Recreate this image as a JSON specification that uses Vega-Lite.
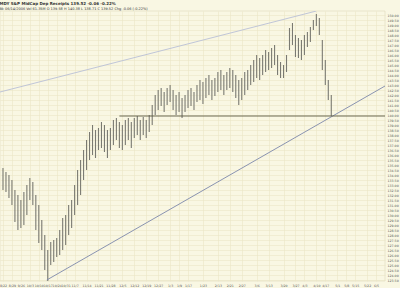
{
  "$schema": "https://vega.github.io/schema/vega-lite/v6.json",
  "width": 385,
  "height": 270,
  "autosize": "none",
  "padding": {"left": 0, "top": 11, "right": 15, "bottom": 7},
  "background": "#f9f7e3",
  "title": {
    "text": "MDY S&P MidCap Dep Receipts  139.52  -0.06 -0.22%",
    "subtitle": "Bk 06/14/2006 Vol 61.35M  O 139.58  H 140.38  L 138.71  C 139.52  Chg -0.06 (-0.22%)",
    "anchor": "start",
    "offset": 1,
    "fontSize": 4,
    "fontWeight": "bold",
    "subtitleFontSize": 3.5,
    "subtitlePadding": 1,
    "color": "#333333",
    "subtitleColor": "#333333",
    "font": "DejaVu Sans",
    "subtitleFont": "DejaVu Sans"
  },
  "config": {
    "view": {"stroke": "#d8d3b0", "strokeWidth": 0.5},
    "axis": {"gridColor": "#ebe6c6", "gridWidth": 0.6, "domain": false, "ticks": false, "labelFont": "DejaVu Sans", "labelColor": "#555555", "labelOverlap": false},
    "axisY": {"labelOverlap": false}
  },
  "datasets": {
    "bars": [
      {"i":0,"h":134.7,"p":132.5},{"i":1,"h":134.3,"p":132.3},{"i":2,"h":134.0,"p":131.7},{"i":3,"h":133.5,"p":131.0},
      {"i":4,"h":132.5,"p":129.3},{"i":5,"h":132.0,"p":128.5},{"i":6,"h":131.5,"p":128.7},{"i":7,"h":132.3,"p":129.0},
      {"i":8,"h":133.0,"p":130.0},{"i":9,"h":133.7,"p":131.5},{"i":10,"h":133.3,"p":131.0},{"i":11,"h":132.0,"p":128.5},
      {"i":12,"h":131.0,"p":127.2},{"i":13,"h":129.5,"p":126.5},{"i":14,"h":128.0,"p":124.5},{"i":15,"h":126.5,"p":123.4},
      {"i":16,"h":127.3,"p":125.0},{"i":17,"h":127.5,"p":125.3},{"i":18,"h":127.7,"p":125.8},{"i":19,"h":128.5,"p":126.0},
      {"i":20,"h":129.7,"p":126.5},{"i":21,"h":130.0,"p":127.0},{"i":22,"h":131.0,"p":128.0},{"i":23,"h":131.5,"p":128.7},
      {"i":24,"h":133.0,"p":130.0},{"i":25,"h":134.5,"p":131.0},{"i":26,"h":135.5,"p":132.0},{"i":27,"h":136.5,"p":133.5},
      {"i":28,"h":137.5,"p":134.5},{"i":29,"h":138.3,"p":135.5},{"i":30,"h":139.0,"p":136.0},{"i":31,"h":138.5,"p":135.7},
      {"i":32,"h":138.7,"p":136.5},{"i":33,"h":139.3,"p":136.7},{"i":34,"h":139.0,"p":136.3},{"i":35,"h":138.5,"p":135.7},
      {"i":36,"h":138.7,"p":136.5},{"i":37,"h":139.5,"p":137.0},{"i":38,"h":139.7,"p":137.5},{"i":39,"h":139.3,"p":136.7},
      {"i":40,"h":139.0,"p":136.5},{"i":41,"h":139.5,"p":137.0},{"i":42,"h":139.7,"p":137.5},{"i":43,"h":139.3,"p":136.7},
      {"i":44,"h":139.7,"p":137.7},{"i":45,"h":139.9,"p":138.0},{"i":46,"h":139.5,"p":137.5},{"i":47,"h":139.8,"p":138.0},
      {"i":48,"h":139.5,"p":137.7},{"i":49,"h":140.0,"p":138.3},{"i":50,"h":141.0,"p":139.0},{"i":51,"h":142.0,"p":140.0},
      {"i":52,"h":142.5,"p":140.5},{"i":53,"h":142.7,"p":140.9},{"i":54,"h":142.3,"p":140.3},{"i":55,"h":142.7,"p":141.0},
      {"i":56,"h":143.0,"p":141.3},{"i":57,"h":142.5,"p":140.5},{"i":58,"h":142.0,"p":140.0},{"i":59,"h":142.3,"p":140.3},
      {"i":60,"h":141.7,"p":139.7},{"i":61,"h":142.0,"p":140.3},{"i":62,"h":142.5,"p":140.7},{"i":63,"h":142.7,"p":140.9},
      {"i":64,"h":142.3,"p":140.5},{"i":65,"h":143.0,"p":141.3},{"i":66,"h":143.5,"p":141.5},{"i":67,"h":143.3,"p":141.1},
      {"i":68,"h":143.7,"p":141.7},{"i":69,"h":144.0,"p":142.0},{"i":70,"h":143.5,"p":141.5},{"i":71,"h":143.7,"p":141.9},
      {"i":72,"h":144.3,"p":142.3},{"i":73,"h":144.5,"p":142.5},{"i":74,"h":144.0,"p":142.0},{"i":75,"h":144.3,"p":142.5},
      {"i":76,"h":144.7,"p":142.7},{"i":77,"h":144.5,"p":142.3},{"i":78,"h":144.0,"p":141.7},{"i":79,"h":143.5,"p":141.0},
      {"i":80,"h":143.7,"p":141.5},{"i":81,"h":144.3,"p":142.0},{"i":82,"h":144.5,"p":142.5},{"i":83,"h":145.0,"p":143.0},
      {"i":84,"h":145.5,"p":143.3},{"i":85,"h":146.0,"p":143.7},{"i":86,"h":145.7,"p":143.5},{"i":87,"h":146.0,"p":144.0},
      {"i":88,"h":146.5,"p":144.3},{"i":89,"h":146.3,"p":144.5},{"i":90,"h":146.7,"p":144.7},{"i":91,"h":147.0,"p":145.0},
      {"i":92,"h":146.0,"p":144.0},{"i":93,"h":145.3,"p":143.7},{"i":94,"h":145.0,"p":143.7},{"i":95,"h":146.0,"p":144.3},
      {"i":96,"h":148.7,"p":146.5},{"i":97,"h":149.2,"p":147.0},{"i":98,"h":148.0,"p":145.8},{"i":99,"h":147.7,"p":145.7},
      {"i":100,"h":147.5,"p":145.5},{"i":101,"h":148.0,"p":146.0},{"i":102,"h":148.3,"p":146.8},{"i":103,"h":148.8,"p":147.3},
      {"i":104,"h":149.5,"p":148.5},{"i":105,"h":150.1,"p":148.9},{"i":106,"h":149.7,"p":148.0},{"i":107,"h":147.5,"p":144.5},
      {"i":108,"h":145.5,"p":143.0},{"i":109,"h":143.5,"p":141.5},{"i":110,"h":142.0,"p":139.9}
    ],
    "lines": [
      {"g":"low","i":14.67,"p":123.5},{"g":"low","i":128,"p":142.9},
      {"g":"up","i":-1,"p":142.3},{"g":"up","i":105,"p":150.4},
      {"g":"flat","i":39,"p":139.9},{"g":"flat","i":128,"p":139.9}
    ]
  },
  "encoding": {
    "x": {
      "field": "i", "type": "quantitative",
      "scale": {"domain": [-1, 128], "nice": false, "zero": false},
      "axis": {
        "title": null, "orient": "bottom",
        "values": [0,3,6,9,12,15,18,21,24,28,32,36,40,44,48,52,56,59,62,67,72,76,80,85,89,94,98,101,105,108,112,115,118,122,125],
        "labelExpr": "['8/22','8/29','9/26','10/3','10/10','10/17','10/24','10/31','11/7','11/14','11/21','11/28','12/5','12/12','12/19','12/27','1/3','1/9','1/17','1/23','2/13','2/21','2/27','3/6','3/13','3/20','3/27','4/3','4/10','4/17','5/1','5/8','5/15','5/22','6/5'][indexof([0,3,6,9,12,15,18,21,24,28,32,36,40,44,48,52,56,59,62,67,72,76,80,85,89,94,98,101,105,108,112,115,118,122,125], datum.value)]",
        "labelFontSize": 3.2, "labelPadding": 2, "labelOverlap": false, "labelFlush": false
      }
    },
    "y": {
      "field": "p", "type": "quantitative",
      "scale": {"domain": [123.4, 150.4], "nice": false, "zero": false},
      "axis": {
        "title": null, "orient": "right", "format": ".2f",
        "values": [123.5,124,124.5,125,125.5,126,126.5,127,127.5,128,128.5,129,129.5,130,130.5,131,131.5,132,132.5,133,133.5,134,134.5,135,135.5,136,136.5,137,137.5,138,138.5,139,139.5,140,140.5,141,141.5,142,142.5,143,143.5,144,144.5,145,145.5,146,146.5,147,147.5,148,148.5,149,149.5,150],
        "labelFontSize": 3.2, "labelPadding": 2, "labelOverlap": false, "labelSeparation": 0
      }
    }
  },
  "layer": [
    {
      "data": {"name": "bars"},
      "mark": {"type": "rule", "color": "#7a7a72", "strokeWidth": 1.1},
      "encoding": {
        "y2": {"field": "h"}
      }
    },
    {
      "data": {"name": "lines"},
      "mark": {"type": "line", "strokeWidth": 0.9, "clip": true},
      "encoding": {
        "detail": {"field": "g"},
        "color": {"field": "g", "type": "nominal", "legend": null,
          "scale": {"domain": ["low", "up", "flat"], "range": ["#7d88aa", "#b9bfd6", "#5b5a44"]}}
      }
    }
  ]
}
